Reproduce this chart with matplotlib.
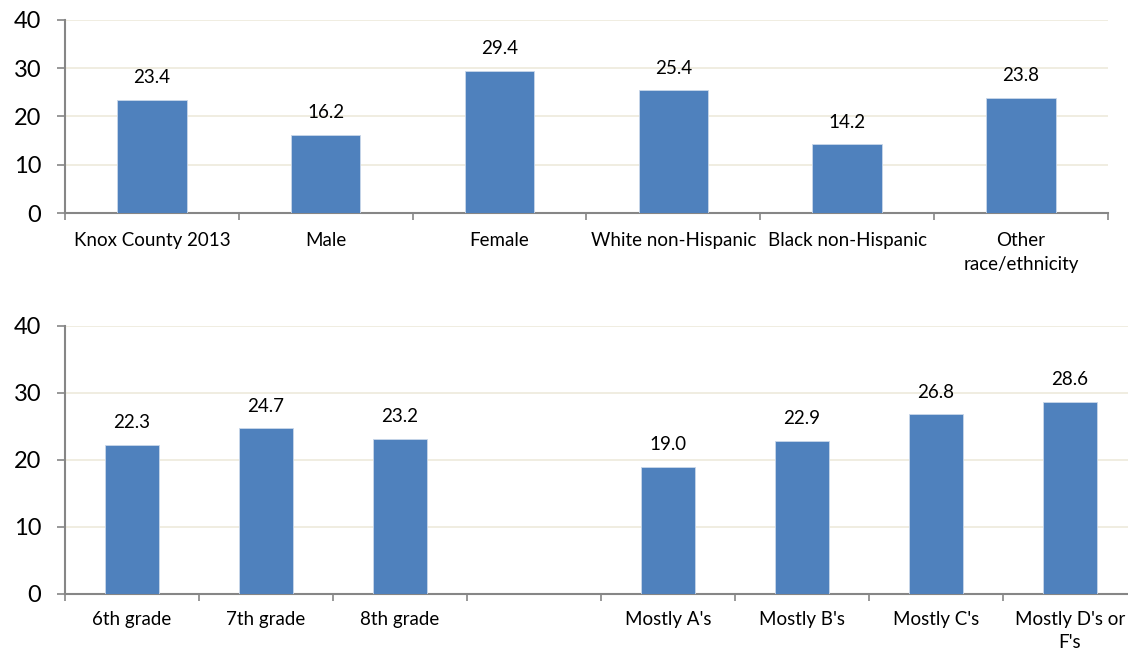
import matplotlib
matplotlib.use("Agg")
from matplotlib import pyplot as plt
import numpy as np

plt.rcParams['font.family'] = ['Lato', 'DejaVu Sans']

top_labels = ["Knox County 2013", "Male", "Female", "White non-Hispanic",
              "Black non-Hispanic", "Other\nrace/ethnicity"]
top_values = [23.4, 16.2, 29.4, 25.4, 14.2, 23.8]

bottom_labels = ["6th grade", "7th grade", "8th grade", "",
                 "Mostly A's", "Mostly B's", "Mostly C's", "Mostly D's or\nF's"]
bottom_values = [22.3, 24.7, 23.2, None, 19.0, 22.9, 26.8, 28.6]

bar_color = "#4F81BD"
grid_color = "#EDEADB"
axis_color = "#868686"


def draw(ax, labels, values, width, label_gap):
    n = len(labels)
    x = np.arange(n)
    for i, v in enumerate(values):
        if v is None:
            continue
        ax.bar(x[i], v, width=width, color=bar_color, edgecolor="#C9D7EA",
               linewidth=0.6, zorder=3)
        ax.annotate("%.1f" % v, (x[i], v), xytext=(0, 10), textcoords="offset points",
                    ha="center", va="bottom", fontsize=13.5)
    ax.set_xlim(-0.5, n - 0.5)
    ax.set_ylim(0, 40)
    ax.set_yticks([0, 10, 20, 30, 40])
    ax.tick_params(axis="y", labelsize=17, length=6, color=axis_color, width=1.2, pad=11)
    ax.set_xticks(x)
    ax.set_xticklabels(labels, fontsize=13.5, linespacing=1.45)
    ax.tick_params(axis="x", length=0, pad=label_gap)
    ax.set_xticks(np.arange(n + 1) - 0.5, minor=True)
    ax.tick_params(axis="x", which="minor", length=5, color=axis_color, width=1.2)
    for y in [10, 20, 30, 40]:
        ax.axhline(y, color=grid_color, lw=1.2, zorder=1)
    for s in ["top", "right"]:
        ax.spines[s].set_visible(False)
    for s in ["left", "bottom"]:
        ax.spines[s].set_color(axis_color)
        ax.spines[s].set_linewidth(1.5)


fig = plt.figure(figsize=(11.28, 6.51), dpi=100)
ax1 = fig.add_axes([0.0576, 0.6728, 0.9246, 0.2965])
ax2 = fig.add_axes([0.0576, 0.0876, 0.9504, 0.4117])
draw(ax1, top_labels, top_values, 0.4, 14)
draw(ax2, bottom_labels, bottom_values, 0.4, 12)

fig.savefig("out.png", dpi=100)
